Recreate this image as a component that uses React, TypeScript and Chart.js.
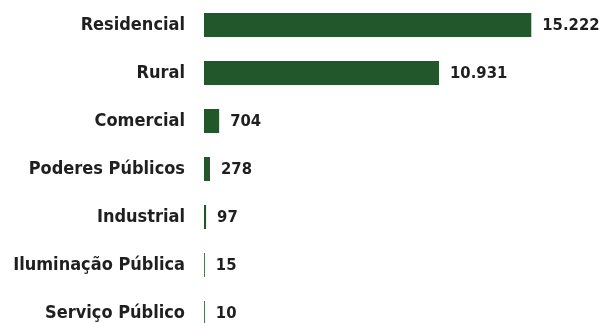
import React, { useEffect, useRef } from 'react';
import { Chart, registerables } from 'chart.js';

Chart.register(...registerables);

const categories = [
  'Residencial',
  'Rural',
  'Comercial',
  'Poderes Públicos',
  'Industrial',
  'Iluminação Pública',
  'Serviço Público',
];
const values = [15222, 10931, 704, 278, 97, 15, 10];

const FONT_FAMILY = '"DejaVu Sans Condensed", "DejaVu Sans", sans-serif';
const TEXT_COLOR = '#1f1f1f';
const BAR_COLOR = '#21572a';

function fmt(v: number): string {
  return String(v).replace(/\B(?=(\d{3})+(?!\d))/g, '.');
}

const valueLabelPlugin = {
  id: 'valueLabels',
  afterDatasetsDraw(chart: any) {
    const ctx = chart.ctx;
    const meta = chart.getDatasetMeta(0);
    ctx.save();
    ctx.font = `bold 16.5px ${FONT_FAMILY}`;
    ctx.fillStyle = TEXT_COLOR;
    ctx.textBaseline = 'middle';
    ctx.textAlign = 'left';
    meta.data.forEach((bar: any, i: number) => {
      ctx.fillText(fmt(values[i]), bar.x + 11, bar.y + 1);
    });
    ctx.restore();
  },
};

export default function App() {
  const canvasRef = useRef<HTMLCanvasElement | null>(null);

  useEffect(() => {
    if (!canvasRef.current) return;
    const chart = new Chart(canvasRef.current, {
      type: 'bar',
      data: {
        labels: categories,
        datasets: [
          {
            data: values,
            backgroundColor: BAR_COLOR,
            barPercentage: 0.5,
            categoryPercentage: 1,
            minBarLength: 0.8,
          },
        ],
      },
      options: {
        indexAxis: 'y',
        animation: false,
        responsive: true,
        maintainAspectRatio: false,
        layout: { padding: { top: 1, bottom: 0, left: 0, right: 11 } },
        plugins: {
          legend: { display: false },
          tooltip: { enabled: false },
        },
        scales: {
          x: {
            display: false,
            min: 0,
            max: 18000,
          },
          y: {
            grid: { display: false, drawTicks: false },
            border: { display: false },
            afterFit(scale: any) {
              scale.width = 204;
              scale.paddingTop = 0;
              scale.paddingBottom = 0;
            },
            ticks: {
              padding: 19,
              color: TEXT_COLOR,
              font: { family: FONT_FAMILY, size: 18, weight: 'bold' },
            },
          },
        },
      },
      plugins: [valueLabelPlugin],
    });
    return () => chart.destroy();
  }, []);

  return (
    <div style={{ position: 'fixed', left: 0, top: 0, width: 602, height: 337, background: '#fff' }}>
      <canvas ref={canvasRef} />
    </div>
  );
}
